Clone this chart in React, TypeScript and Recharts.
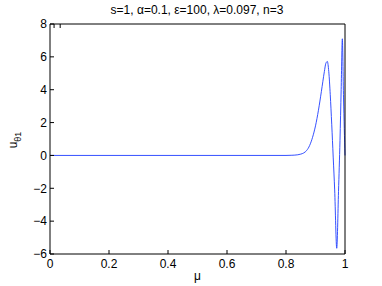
import { Line, LineChart, XAxis, YAxis } from "recharts";

const MU = [0, 0.2, 0.4, 0.6, 0.8, 0.82, 0.84, 0.85, 0.86, 0.87, 0.88, 0.89, 0.9, 0.91, 0.92, 0.93, 0.935, 0.94, 0.945, 0.95, 0.955, 0.96, 0.965, 0.972, 0.978, 0.983, 0.987, 0.991, 0.995, 1];
const U_THETA1 = [0, 0, 0, 0, 0, 0.01, 0.04, 0.08, 0.15, 0.3, 0.6, 1.1, 1.8, 2.75, 3.9, 5.1, 5.6, 5.72, 5.1, 3.7, 1.9, -0.1, -2.1, -5.65, -2.2, 0.9, 4.0, 7.1, 3.5, 0];

const X_TICKS = [0, 0.2, 0.4, 0.6, 0.8, 1];
const Y_TICKS = [-6, -4, -2, 0, 2, 4, 6, 8];

const TITLE = "s=1, α=0.1, ε=100, λ=0.097, n=3";

const FONT = "'Liberation Sans', Arial, Helvetica, sans-serif";
const LINE_COLOR = "#1f3dff";

const data = MU.map((mu, i) => ({ mu, u: U_THETA1[i] }));

const fmt = (v: number) => (v < 0 ? `\u2212${Math.abs(v)}` : `${v}`);

function YLabel({ viewBox }: any) {
  const cx = viewBox.x + viewBox.width - 33;
  const cy = viewBox.y + viewBox.height / 2 + 1;
  return (
    <text
      transform={`translate(${cx},${cy}) rotate(-90)`}
      textAnchor="middle"
      fontFamily={FONT}
      fontSize={12}
      fill="#000"
    >
      u
      <tspan fontSize={9} dy={4}>
        θ1
      </tspan>
    </text>
  );
}

export default function App() {
  const tickStyle = { fontSize: 12, fontFamily: FONT, fill: "#000" };
  return (
    <div style={{ position: "absolute", left: 0, top: 0, width: 382, height: 286, background: "#fff" }}>
      <LineChart
        width={382}
        height={286}
        data={data}
        margin={{ top: 23, right: 36, bottom: 2, left: 10 }}
      >
        <text x={197} y={14} textAnchor="middle" fontFamily={FONT} fontSize={12} fill="#000">
          {TITLE}
        </text>
        <XAxis
          dataKey="mu"
          type="number"
          domain={[0, 1]}
          ticks={X_TICKS}
          height={30}
          tickSize={-4}
          tickMargin={9}
          tick={tickStyle}
          stroke="#000"
          tickFormatter={(v) => `${v}`}
          label={{ value: "μ", position: "insideBottom", offset: 4, style: { fontFamily: FONT, fontSize: 12, fill: "#000" } }}
        />
        <XAxis
          xAxisId="top"
          orientation="top"
          type="number"
          domain={[0, 1]}
          ticks={X_TICKS}
          height={1}
          tickSize={-4}
          tickFormatter={() => ""}
          stroke="#000"
        />
        <YAxis
          type="number"
          domain={[-6, 8]}
          ticks={Y_TICKS}
          width={40}
          tickSize={-4}
          tickMargin={7}
          tick={tickStyle}
          stroke="#000"
          tickFormatter={fmt}
          label={<YLabel />}
        />
        <YAxis
          yAxisId="right"
          orientation="right"
          type="number"
          domain={[-6, 8]}
          ticks={Y_TICKS}
          width={1}
          tickSize={-4}
          tickFormatter={() => ""}
          stroke="#000"
        />
        <Line
          dataKey="u"
          type="monotone"
          stroke={LINE_COLOR}
          strokeWidth={0.9}
          dot={false}
          isAnimationActive={false}
        />
      </LineChart>
    </div>
  );
}
